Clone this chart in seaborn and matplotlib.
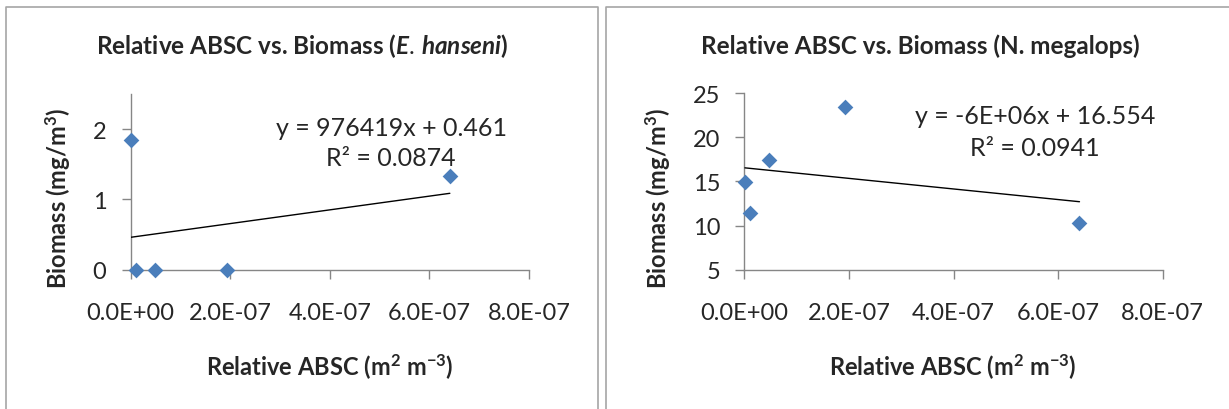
import numpy as np
import pandas as pd
import matplotlib
matplotlib.use("Agg")
import matplotlib.pyplot as plt
import seaborn as sns
from matplotlib.ticker import FuncFormatter, FixedLocator
from matplotlib.lines import Line2D

# ---------------- data ----------------
absc_x = [1e-9, 1.0e-8, 4.8e-8, 1.93e-7, 6.41e-7]
hanseni_biomass = [1.85, 0.0, 0.0, 0.0, 1.33]
megalops_biomass = [14.9, 11.4, 17.4, 23.4, 10.3]

hanseni_slope, hanseni_intercept = 976419, 0.461
megalops_slope, megalops_intercept = -6e6, 16.554
hanseni_eq = "y = 976419x + 0.461"
hanseni_r2 = "R² = 0.0874"
megalops_eq = "y = -6E+06x + 16.554"
megalops_r2 = "R² = 0.0941"

x_ticks = [0, 2e-7, 4e-7, 6e-7, 8e-7]
hanseni_yticks = [0, 1, 2]
megalops_yticks = [5, 10, 15, 20, 25]

# ---------------- style ----------------
sns.set_style("white")
plt.rcParams["font.family"] = ["Lato", "DejaVu Sans"]
plt.rcParams["mathtext.fontset"] = "custom"
plt.rcParams["mathtext.default"] = "regular"
plt.rcParams["mathtext.it"] = "Lato:italic:bold"
plt.rcParams["mathtext.rm"] = "Lato"
plt.rcParams["mathtext.bf"] = "Lato:bold"

W, H = 1229, 410
fig = plt.figure(figsize=(W / 100, H / 100), dpi=100)

def fx(px):
    return px / W

def fy(py):
    return 1 - py / H

AXC = "#868686"
MC = "#4a7ebb"
TICKFS = 17
EQFS = 18
TITLEFS = 17.5
LABFS = 17


def style_axes(ax, yticks, ylim):
    ax.set_xlim(0, 8e-7)
    ax.set_ylim(*ylim)
    ax.xaxis.set_major_locator(FixedLocator(x_ticks))
    ax.yaxis.set_major_locator(FixedLocator(yticks))
    ax.xaxis.set_major_formatter(FuncFormatter(lambda v, p: f"{v:.1E}"))
    ax.yaxis.set_major_formatter(FuncFormatter(lambda v, p: f"{v:g}"))
    for s in ["top", "right"]:
        ax.spines[s].set_visible(False)
    for s in ["left", "bottom"]:
        ax.spines[s].set_color(AXC)
        ax.spines[s].set_linewidth(1.0)
    ax.tick_params(axis="y", direction="out", length=6.5, width=1.0, color=AXC,
                   labelsize=TICKFS, pad=11, left=True)
    ax.tick_params(axis="x", direction="out", length=6.5, width=1.0, color=AXC,
                   labelsize=TICKFS, pad=17, bottom=True)
    ax.set_xlabel("")
    ax.set_ylabel("")
    ax.grid(False)
    ax.set_facecolor("none")


def draw(ax, yvals, slope, intercept):
    df = pd.DataFrame({"x": absc_x, "y": yvals})
    xl = np.array([min(absc_x), max(absc_x)])
    dfl = pd.DataFrame({"x": xl, "y": slope * xl + intercept})
    sns.lineplot(data=dfl, x="x", y="y", ax=ax, color="black", linewidth=1.0,
                 zorder=3)
    sns.scatterplot(data=df, x="x", y="y", ax=ax, marker="D", s=64, color=MC,
                    linewidth=0, clip_on=False, zorder=4)


# left panel
axL = fig.add_axes([fx(130.7), fy(270.7), fx(529 - 130.7), (270.7 - 95) / H])
draw(axL, hanseni_biomass, hanseni_slope, hanseni_intercept)
style_axes(axL, hanseni_yticks, (0, 2.5))

# right panel
axR = fig.add_axes([fx(744.4), fy(270.7), fx(1162.6 - 744.4), (270.7 - 94.3) / H])
draw(axR, megalops_biomass, megalops_slope, megalops_intercept)
style_axes(axR, megalops_yticks, (5, 25))

# titles
fig.text(fx(302), fy(46), r"Relative ABSC vs. Biomass ($\mathit{E.\,hanseni}$)",
         ha="center", va="center", fontsize=TITLEFS, fontweight="bold")
fig.text(fx(920), fy(46), "Relative ABSC vs. Biomass (N. megalops)",
         ha="center", va="center", fontsize=TITLEFS, fontweight="bold")

# trend equations
fig.text(fx(391), fy(128), hanseni_eq, ha="center", va="center", fontsize=EQFS)
fig.text(fx(391), fy(159), hanseni_r2, ha="center", va="center", fontsize=EQFS)
fig.text(fx(1035), fy(117), megalops_eq, ha="center", va="center", fontsize=EQFS)
fig.text(fx(1035), fy(149), megalops_r2, ha="center", va="center", fontsize=EQFS)

# axis labels
xlab = r"Relative ABSC (m$^{2}$ m$^{-3}$)"
ylab = r"Biomass (mg/m$^{3}$)"
fig.text(fx(330), fy(367), xlab, ha="center", va="center", fontsize=LABFS, fontweight="bold")
fig.text(fx(953), fy(367), xlab, ha="center", va="center", fontsize=LABFS, fontweight="bold")
fig.text(fx(58), fy(198), ylab, ha="center", va="center", rotation=90, fontsize=LABFS,
         fontweight="bold")
fig.text(fx(658), fy(198), ylab, ha="center", va="center", rotation=90, fontsize=LABFS,
         fontweight="bold")

# chart-area borders
BC = "#a6a6a6"
for xs, ys in [([6, 6, 598, 598], [412, 8, 8, 412]),
               ([606, 606, 1232], [412, 8, 8])]:
    fig.add_artist(Line2D([fx(v) for v in xs], [fy(v) for v in ys],
                          color=BC, linewidth=1.2, transform=fig.transFigure))

fig.savefig("out.png", dpi=100)
